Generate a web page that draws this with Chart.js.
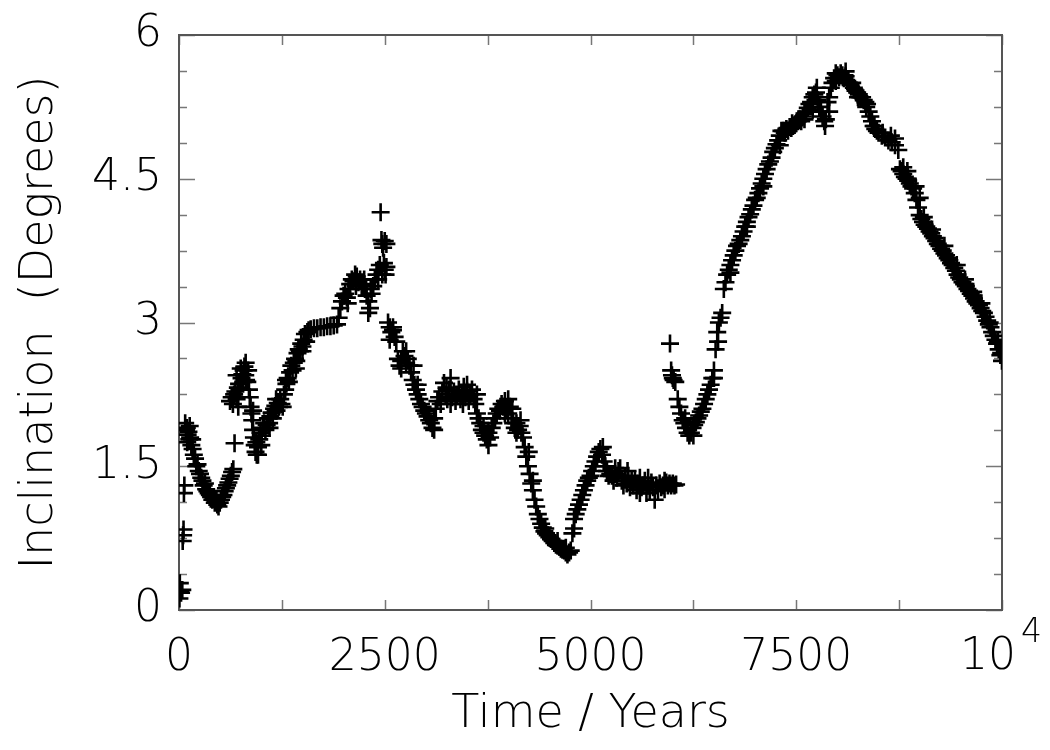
<!DOCTYPE html>
<html>
<head>
<meta charset="utf-8">
<script src="https://cdn.jsdelivr.net/npm/chart.js@4.4.1/dist/chart.umd.min.js"></script>
<style>
  html, body { margin: 0; padding: 0; background: #ffffff; }
  #wrap { width: 1050px; height: 750px; }
</style>
</head>
<body>
<div id="wrap"><canvas id="c" width="1050" height="750"></canvas></div>
<script>
// ---- Data ----
const times = [
  5, 10, 15, 25, 40, 45, 50, 55, 60, 65,
  75, 85, 95, 105, 115, 125, 135, 150, 165, 180,
  195, 210, 225, 240, 255, 270, 285, 300, 315, 330,
  345, 360, 375, 390, 405, 420, 435, 450, 465, 480,
  495, 510, 525, 540, 555, 570, 585, 600, 615, 630,
  645, 660, 675,
  620, 640, 655, 670, 685, 700, 715, 730, 745, 760,
  770, 785, 795, 805, 815, 830, 840, 850, 860,
  870, 880, 890, 900, 910, 920, 930, 945, 960, 975,
  990, 1005, 1020, 1035, 1050, 1065, 1080, 1095, 1110, 1125,
  1140, 1155, 1170, 1185, 1200, 1215, 1230, 1245, 1260, 1275,
  1290, 1305, 1320, 1335, 1350, 1365, 1380, 1395, 1410, 1425,
  1440, 1455, 1470, 1485, 1500, 1515, 1530, 1545, 1560, 1575,
  1600, 1640, 1680, 1720, 1760, 1800, 1840, 1880, 1920,
  1940, 1960, 1980, 2000, 2020, 2040, 2060, 2080, 2100, 2120,
  2140, 2160, 2180, 2200, 2220, 2240, 2260, 2280, 2300, 2320,
  2340, 2360, 2380, 2400, 2420, 2440, 2450, 2460, 2470, 2480,
  2490, 2500, 2510, 2520,
  2540, 2560, 2580, 2600, 2620, 2640, 2660, 2680, 2700, 2720,
  2740, 2760, 2780, 2800, 2820, 2840, 2860, 2880, 2900, 2920,
  2940, 2960, 2980, 3000, 3020, 3040, 3060, 3080, 3100, 3120,
  3140, 3160, 3180, 3200, 3220, 3240, 3260, 3280, 3300, 3320,
  3340, 3360, 3380, 3400, 3420, 3440, 3460, 3480, 3500, 3520,
  3540, 3560, 3580, 3600, 3620, 3640, 3660, 3680, 3700, 3720,
  3740, 3760, 3780, 3800, 3820, 3840, 3860, 3880, 3900, 3920,
  3940, 3960, 3980, 4000, 4020, 4040, 4060, 4080, 4100, 4120,
  4140, 4160, 4180, 4200, 4220, 4240, 4260, 4280, 4300, 4320,
  4340, 4360, 4380, 4400, 4420, 4440, 4460, 4480, 4500, 4520,
  4540, 4560, 4580, 4600, 4620, 4640, 4660, 4680, 4700, 4720,
  4740, 4760, 4780, 4800, 4820, 4840, 4860, 4880, 4900, 4920,
  4940, 4960, 4980, 5000, 5020, 5040, 5060, 5080, 5100, 5120,
  5140, 5160, 5180, 5200, 5220, 5240, 5260, 5280, 5300, 5320,
  5340, 5360, 5380, 5400, 5420, 5440, 5460, 5480, 5500, 5520,
  5540, 5560, 5580, 5600, 5620, 5640, 5660, 5680, 5700, 5720,
  5740, 5760, 5780, 5800, 5820, 5840, 5860, 5880, 5900, 5920,
  5940, 5960, 5980, 6000, 6020, 6040,
  5966, 5980, 5990, 6000, 6010, 6030, 6060, 6080, 6100, 6120,
  6140, 6160, 6180, 6200, 6220, 6240, 6260, 6280, 6300, 6320,
  6340, 6360, 6380, 6400, 6420, 6440, 6460, 6480, 6500, 6520,
  6540, 6560, 6580, 6600, 6620, 6640, 6660, 6680, 6700, 6720,
  6740, 6760, 6780, 6800, 6820, 6840, 6860, 6880, 6900, 6920,
  6940, 6960, 6980, 7000, 7020, 7040, 7060, 7080, 7100, 7120,
  7140, 7160, 7180, 7200, 7220, 7240, 7260, 7280, 7300, 7320,
  7340, 7360, 7380, 7400, 7420, 7440, 7460, 7480, 7500, 7520,
  7540, 7560, 7580, 7600, 7620, 7640, 7660, 7680, 7700, 7720,
  7740, 7760, 7780, 7800, 7820, 7840, 7860, 7880, 7900, 7920,
  7940, 7960, 7980, 8000, 8020, 8040, 8060, 8080, 8100, 8120,
  8140, 8160, 8180, 8200, 8220, 8240, 8260, 8280, 8300, 8320,
  8340, 8360, 8380, 8400, 8420, 8440, 8460, 8480, 8500, 8540,
  8580, 8620, 8660, 8700, 8740, 8760, 8780, 8800, 8820, 8840,
  8860, 8880, 8900, 8920, 8940, 8960, 8980, 9000, 9020, 9040,
  9060, 9080, 9100, 9120, 9140, 9160, 9180, 9200, 9220, 9240,
  9260, 9280, 9300, 9320, 9340, 9360, 9380, 9400, 9420, 9440,
  9460, 9480, 9500, 9520, 9540, 9560, 9580, 9600, 9620, 9640,
  9660, 9680, 9700, 9720, 9740, 9760, 9780, 9800, 9820, 9840,
  9860, 9880, 9900, 9920, 9940, 9960, 9980, 10000,
  // scattered points around the main band
  100, 130, 160, 700, 720, 750, 780, 810, 900, 940,
  960, 1000, 1100, 1180, 1300, 1420, 1500, 2050, 2150, 2250,
  2300, 2330, 2420, 2470, 2500, 2520, 2560, 2600, 2700, 2760,
  2850, 2900, 3100, 3250, 3300, 3450, 3500, 3620, 3700, 3760,
  3960, 4000, 4050, 4100, 4150, 4250, 4300, 4450, 4600, 4700,
  4800, 5150, 5300, 5450, 5600, 5700, 5900, 6150, 6250, 6500,
  6550, 6700, 6900, 7100, 7300, 7450, 7600, 7700, 7750, 7850,
  7900, 7980, 8100, 8250, 8350, 8450, 8550, 8650, 8700, 8800,
  8850, 8950, 9000, 9050, 9150, 9300, 9450, 9550, 9650, 9750,
  9850, 9950, 9990
];

const incl = [
  0.12, 0.28, 0.20, 0.18, 0.21, 0.72, 0.78, 0.84, 1.22, 1.30,
  1.95, 1.88, 1.90, 1.83, 1.86, 1.78, 1.80, 1.72, 1.68, 1.62,
  1.58, 1.50, 1.52, 1.45, 1.42, 1.38, 1.35, 1.30, 1.32, 1.26,
  1.24, 1.22, 1.20, 1.18, 1.15, 1.16, 1.12, 1.14, 1.10, 1.08,
  1.12, 1.15, 1.18, 1.20, 1.24, 1.27, 1.30, 1.33, 1.37, 1.40,
  1.44, 1.47, 1.74,
  2.18, 2.22, 2.15, 2.25, 2.28, 2.20, 2.32, 2.36, 2.30, 2.42,
  2.46, 2.50, 2.54, 2.45, 2.40, 2.38, 2.50, 2.30, 2.22,
  2.12, 2.05, 1.98, 1.88, 1.80, 1.72, 1.65, 1.62, 1.70, 1.78,
  1.85, 1.82, 1.90, 1.95, 1.88, 1.93, 2.00, 1.95, 2.02, 2.06,
  2.00, 2.10, 2.13, 2.08, 2.16, 2.12, 2.20, 2.15, 2.12, 2.25,
  2.30, 2.36, 2.42, 2.38, 2.48, 2.55, 2.50, 2.58, 2.62, 2.60,
  2.68, 2.72, 2.70, 2.78, 2.75, 2.82, 2.88, 2.80, 2.90, 2.92,
  2.93, 2.94, 2.94, 2.95, 2.95, 2.96, 2.96, 2.97, 2.98,
  3.05, 3.15, 3.22, 3.28, 3.30, 3.26, 3.35, 3.40, 3.45, 3.43,
  3.50, 3.48, 3.42, 3.45, 3.38, 3.40, 3.35, 3.28, 3.22, 3.15,
  3.30, 3.38, 3.45, 3.50, 3.55, 3.60, 4.15, 3.86, 3.82, 3.78,
  3.62, 3.55, 3.50, 3.58,
  3.00, 2.95, 2.90, 2.92, 2.85, 2.80, 2.62, 2.55, 2.60, 2.70,
  2.65, 2.58, 2.62, 2.55, 2.48, 2.40, 2.35, 2.30, 2.25, 2.20,
  2.15, 2.12, 2.08, 2.05, 2.02, 1.98, 1.95, 1.90, 2.00, 2.10,
  2.18, 2.22, 2.15, 2.28, 2.37, 2.25, 2.20, 2.30, 2.15, 2.22,
  2.28, 2.18, 2.24, 2.30, 2.20, 2.26, 2.33, 2.22, 2.28, 2.18,
  2.25, 2.30, 2.20, 2.15, 2.05, 2.00, 1.95, 1.88, 1.92, 1.82,
  1.78, 1.85, 1.80, 1.90, 1.95, 2.00, 2.05, 2.10, 2.08, 2.15,
  2.12, 2.18, 2.10, 2.05, 2.12, 2.00, 1.95, 1.90, 1.95, 1.88,
  1.92, 1.85, 1.80, 1.70, 1.60, 1.50, 1.42, 1.32, 1.25, 1.15,
  1.08, 1.00, 0.95, 0.90, 0.86, 0.82, 0.80, 0.78, 0.76, 0.74,
  0.72, 0.70, 0.68, 0.67, 0.66, 0.64, 0.63, 0.62, 0.60, 0.58,
  0.60, 0.62, 0.80, 0.95, 1.00, 1.05, 1.10, 1.15, 1.20, 1.25,
  1.30, 1.35, 1.38, 1.40, 1.45, 1.50, 1.55, 1.60, 1.65, 1.68,
  1.62, 1.55, 1.50, 1.45, 1.40, 1.42, 1.40, 1.35, 1.42, 1.38,
  1.45, 1.48, 1.35, 1.30, 1.38, 1.32, 1.40, 1.28, 1.35, 1.30,
  1.36, 1.25, 1.32, 1.38, 1.28, 1.30, 1.35, 1.22, 1.30, 1.25,
  1.33, 1.28, 1.15, 1.30, 1.25, 1.32, 1.28, 1.30, 1.26, 1.33,
  1.30, 1.32, 1.30, 1.32, 1.30, 1.31,
  2.78, 2.50, 2.45, 2.42, 2.40, 2.38, 2.20, 2.12, 2.05, 1.98,
  1.95, 1.90, 1.85, 1.82, 1.85, 1.90, 1.93, 1.96, 2.00, 2.03,
  2.07, 2.10, 2.15, 2.20, 2.25, 2.30, 2.35, 2.42, 2.50, 2.72,
  2.90, 3.00, 3.05, 3.10, 3.35, 3.42, 3.50, 3.55, 3.60, 3.65,
  3.70, 3.75, 3.80, 3.82, 3.86, 3.90, 3.95, 4.00, 4.05, 4.10,
  4.13, 4.18, 4.22, 4.28, 4.30, 4.35, 4.40, 4.45, 4.50, 4.55,
  4.60, 4.65, 4.68, 4.72, 4.78, 4.82, 4.86, 4.90, 4.95, 5.00,
  5.00, 4.98, 5.02, 5.00, 5.04, 5.03, 5.05, 5.06, 5.08, 5.10,
  5.12, 5.10, 5.15, 5.18, 5.20, 5.24, 5.28, 5.30, 5.35, 5.38,
  5.40, 5.32, 5.25, 5.20, 5.15, 5.10, 5.12, 5.30, 5.35, 5.45,
  5.50, 5.55, 5.52, 5.58, 5.56, 5.60, 5.58, 5.55, 5.57, 5.52,
  5.50, 5.48, 5.50, 5.45, 5.42, 5.40, 5.38, 5.35, 5.35, 5.32,
  5.30, 5.28, 5.20, 5.15, 5.10, 5.05, 5.02, 5.00, 4.98, 4.95,
  4.93, 4.90, 4.88, 4.85, 4.80, 4.60, 4.58, 4.55, 4.52, 4.50,
  4.48, 4.45, 4.42, 4.40, 4.35, 4.28, 4.20, 4.12, 4.08, 4.05,
  4.02, 4.00, 3.98, 3.95, 3.93, 3.90, 3.88, 3.85, 3.82, 3.80,
  3.77, 3.75, 3.72, 3.70, 3.67, 3.65, 3.62, 3.60, 3.57, 3.54,
  3.50, 3.47, 3.45, 3.42, 3.40, 3.38, 3.35, 3.33, 3.30, 3.28,
  3.25, 3.22, 3.20, 3.18, 3.15, 3.12, 3.10, 3.06, 3.02, 2.98,
  2.95, 2.90, 2.86, 2.82, 2.78, 2.72, 2.66, 2.60,
  // scattered points around the main band
  1.75, 1.92, 1.78, 2.45, 2.12, 2.52, 2.38, 2.58, 2.08, 1.75,
  1.62, 1.72, 1.90, 2.20, 2.40, 2.52, 2.70, 3.20, 3.38, 3.45,
  3.10, 3.35, 3.45, 3.50, 3.85, 3.82, 2.82, 2.95, 2.52, 2.70,
  2.55, 2.35, 1.88, 2.32, 2.42, 2.15, 2.35, 2.25, 1.85, 1.72,
  2.05, 2.20, 2.10, 1.85, 1.98, 1.65, 1.35, 0.85, 0.72, 0.65,
  0.85, 1.70, 1.48, 1.45, 1.22, 1.38, 1.35, 2.00, 1.82, 2.42,
  2.80, 3.52, 4.00, 4.42, 4.85, 5.08, 5.12, 5.22, 5.45, 5.05,
  5.20, 5.60, 5.62, 5.35, 5.25, 5.05, 4.98, 4.95, 4.92, 4.62,
  4.58, 4.42, 4.30, 4.10, 3.97, 3.80, 3.60, 3.45, 3.32, 3.20,
  3.00, 2.80, 2.68
];

const xTickValues = [0, 2500, 5000, 7500, 10000];
const yTickValues = [0, 1.5, 3, 4.5, 6];
const xTitle = 'Time / Years';
const yTitle = 'Inclination  (Degrees)';

// ---- Chart ----
const FONT = "'DejaVu Sans ExtraLight', 'DejaVu Sans', sans-serif";
const points = times.map((t, i) => ({ x: t, y: incl[i] }));

const frameTicks = {
  id: 'frameTicks',
  beforeDatasetsDraw(chart) {
    const { ctx, chartArea: a, scales: { x, y } } = chart;
    ctx.save();
    ctx.strokeStyle = '#777';
    ctx.lineWidth = 1.5;
    ctx.beginPath();
    for (let v = x.min; v <= x.max + 1e-6; v += 1250) {
      const px = Math.round(x.getPixelForValue(v)) + 0.5;
      ctx.moveTo(px, a.bottom); ctx.lineTo(px, a.bottom - 10);
      ctx.moveTo(px, a.top); ctx.lineTo(px, a.top + 10);
    }
    for (let k = 0; k <= 16; k++) {
      const v = k * 0.375;
      const py = Math.round(y.getPixelForValue(v)) + 0.5;
      const len = (k % 4 === 0) ? 16 : 8;
      ctx.moveTo(a.left, py); ctx.lineTo(a.left + len, py);
      ctx.moveTo(a.right, py); ctx.lineTo(a.right - len, py);
    }
    ctx.stroke();
    ctx.strokeStyle = '#555';
    ctx.lineWidth = 2;
    ctx.strokeRect(a.left, a.top, a.right - a.left, a.bottom - a.top);
    ctx.restore();
  },
  afterDraw(chart) {
    const { ctx, scales: { x } } = chart;
    const px = x.getPixelForValue(10000);
    ctx.save();
    ctx.fillStyle = '#000';
    ctx.textBaseline = 'alphabetic';
    ctx.font = "200 44px " + FONT;
    ctx.textAlign = 'right';
    ctx.fillText('10', px + 14, 669);
    ctx.font = "200 33px " + FONT;
    ctx.textAlign = 'left';
    ctx.fillText('4', px + 19, 642);
    ctx.restore();
  }
};

new Chart(document.getElementById('c'), {
  type: 'scatter',
  data: {
    datasets: [{
      data: points,
      pointStyle: 'cross',
      radius: 9,
      hoverRadius: 9,
      borderWidth: 2.6,
      borderColor: '#000',
      backgroundColor: '#000'
    }]
  },
  options: {
    responsive: false,
    animation: false,
    devicePixelRatio: 1,
    layout: { padding: { left: 0, right: 48, top: 35, bottom: 0 } },
    plugins: { legend: { display: false }, tooltip: { enabled: false } },
    scales: {
      x: {
        type: 'linear',
        min: 0, max: 10000,
        afterFit(scale) { scale.height = 140; scale.paddingLeft = 0; scale.paddingRight = 0; },
        afterBuildTicks(scale) { scale.ticks = xTickValues.map(v => ({ value: v })); },
        grid: { display: false, drawTicks: false },
        border: { display: false },
        ticks: {
          color: '#000',
          padding: 22,
          maxRotation: 0,
          font: { family: FONT, size: 44, weight: '200' },
          callback: (v) => (v === 10000 ? '' : String(v))
        },
        title: {
          display: true, text: xTitle, color: '#000',
          font: { family: FONT, size: 46, weight: '200', lineHeight: 1 },
          padding: { top: 0, bottom: 12 }
        }
      },
      y: {
        type: 'linear',
        min: 0, max: 6,
        afterFit(scale) { scale.width = 179; scale.paddingTop = 0; scale.paddingBottom = 0; },
        afterBuildTicks(scale) { scale.ticks = yTickValues.map(v => ({ value: v })); },
        grid: { display: false, drawTicks: false },
        border: { display: false },
        ticks: {
          color: '#000',
          padding: 17,
          font: { family: FONT, size: 44, weight: '200' },
          callback: (v) => String(v)
        },
        title: {
          display: true, text: yTitle, color: '#000',
          font: { family: FONT, size: 46, weight: '200', lineHeight: 1 },
          padding: { top: 17, bottom: 0 }
        }
      }
    }
  },
  plugins: [frameTicks]
});
</script>
</body>
</html>
